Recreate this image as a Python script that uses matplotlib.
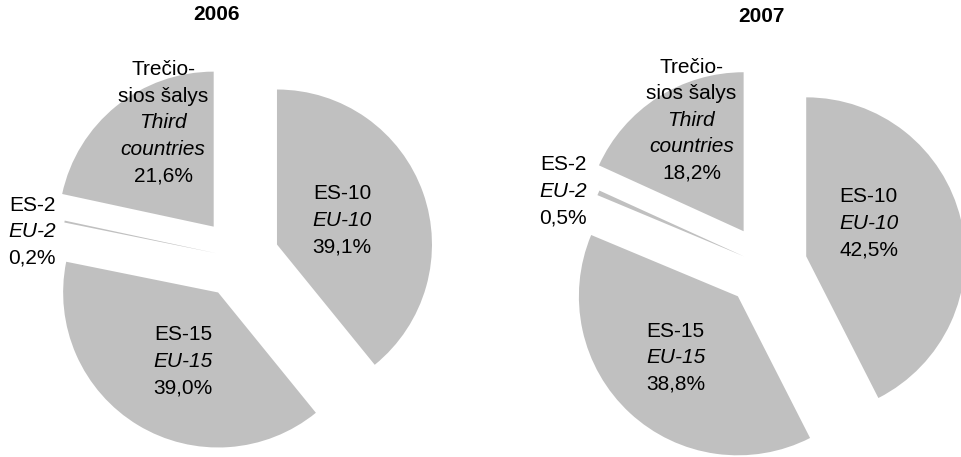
import numpy as np
import matplotlib.pyplot as plt

plt.rcParams['font.family'] = ['Liberation Sans', 'DejaVu Sans']

# data
years = ['2006', '2007']
names_lt = ['ES-10', 'ES-15', 'ES-2', 'Trečio-\nsios šalys']
names_en = ['EU-10', 'EU-15', 'EU-2', 'Third\ncountries']
shares_2006 = [39.1, 39.0, 0.2, 21.6]
shares_2007 = [42.5, 38.8, 0.5, 18.2]

# layout (pixels, image coords from top-left)
W, H = 961, 457
centers = [(239, 258), (766, 266)]
radii = [155, 159]
explode = [0.26, 0.26, 0.15, 0.26]
title_pos = [(217, 15), (761, 16)]
# label anchors in radius units from the pie centre
label_pos = [
    [(0.665, 0.258), (-0.361, -0.652), (-1.335, 0.181), (-0.490, 0.885)],
    [(0.645, 0.283), (-0.569, -0.566), (-1.274, 0.484), (-0.469, 0.930)],
]
line_gap = 26.5
fsize = 15

fig = plt.figure(figsize=(W / 100, H / 100), dpi=100)

for i, shares in enumerate([shares_2006, shares_2007]):
    left = i * W / 2
    ax = fig.add_axes([i * 0.5, 0, 0.5, 1])
    ax.pie(shares, startangle=90, counterclock=False,
           explode=explode, colors=['#c0c0c0'] * len(shares),
           wedgeprops={'linewidth': 0})
    cx, cy = centers[i]
    r = radii[i]
    ax.set_aspect('auto')
    ax.set_xlim((left - cx) / r, (left + W / 2 - cx) / r)
    ax.set_ylim((cy - H) / r, cy / r)
    ax.axis('off')

    for j, v in enumerate(shares):
        lines = [(t, 'normal') for t in names_lt[j].split('\n')]
        lines += [(t, 'italic') for t in names_en[j].split('\n')]
        lines.append((f"{v:.1f}".replace('.', ',') + '%', 'normal'))
        n = len(lines)
        lx, ly = label_pos[i][j]
        for k, (txt, st) in enumerate(lines):
            off = ((n - 1) / 2 - k) * line_gap - 7.5
            ax.annotate(txt, xy=(lx, ly), xytext=(0, off),
                        textcoords='offset pixels', ha='center', va='baseline',
                        fontsize=fsize, style=st, color='black')

    tx, ty = title_pos[i]
    fig.text(tx / W, 1 - ty / H, years[i], ha='center', va='center',
             fontsize=fsize, fontweight='bold')

fig.savefig('out.png', dpi=100)
